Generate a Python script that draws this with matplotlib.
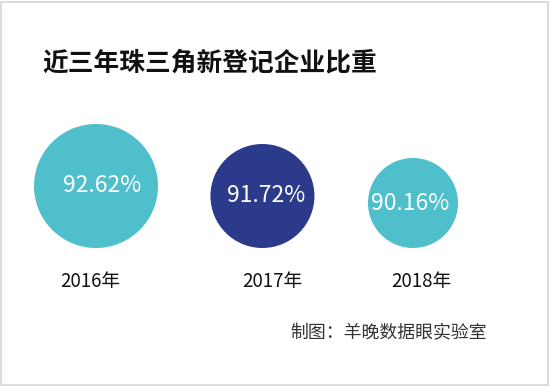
import numpy as np
import matplotlib
matplotlib.use("Agg")
import matplotlib.pyplot as plt
from matplotlib.patches import Rectangle

plt.rcParams['font.family'] = ['Noto Sans CJK SC', 'DejaVu Sans']

years = ['2016年', '2017年', '2018年']
shares = [92.62, 91.72, 90.16]
colors = ['#4fbfcc', '#2c3a8b', '#4fbfcc']

title = '近三年珠三角新登记企业比重'
source = '制图：羊晚数据眼实验室'

# layout (pixels)
slots = [0, 1.05, 2]
radius_px = [62, 52, 45]
pct_dx = [6, 4, -3]
year_dx = [-6, 10, 8]

fig = plt.figure(figsize=(5.5, 3.86), dpi=100)
ax = fig.add_axes([0, 0, 1, 1])
ax.set_xlim(-96 / 158.5, (550 - 96) / 158.5)
ax.set_ylim(0, 386)
ax.axis('off')

baseline = 386 - 248
for x, v, r, c, dx, yl, ydx in zip(slots, shares, radius_px, colors, pct_dx, years, year_dx):
    cy = baseline + r
    ax.scatter([x], [cy], s=(2 * r * 0.72) ** 2, color=c, edgecolors='none', zorder=2)
    ax.annotate(f'{v:.2f}%', (x, cy), xytext=(dx * 0.72, 0), textcoords='offset points',
                ha='center', va='center', color='white', fontsize=16.5, zorder=3)
    ax.annotate(yl, (x, 386 - 282), xytext=(ydx * 0.72, 0), textcoords='offset points',
                ha='center', va='center', color='#111111', fontsize=13.5)

fig.text(42 / 550, 1 - 63 / 386, title, ha='left', va='center',
         fontsize=18.5, fontweight='heavy', color='#111111')
fig.text(487 / 550, 1 - 333 / 386, source, ha='right', va='center',
         fontsize=12.9, color='#333333')

fig.patches.append(Rectangle((0.002, 0.003), 0.994, 0.993, transform=fig.transFigure,
                             fill=False, edgecolor='#dcdcdc', linewidth=1.4))

fig.savefig('out.png', dpi=100)
